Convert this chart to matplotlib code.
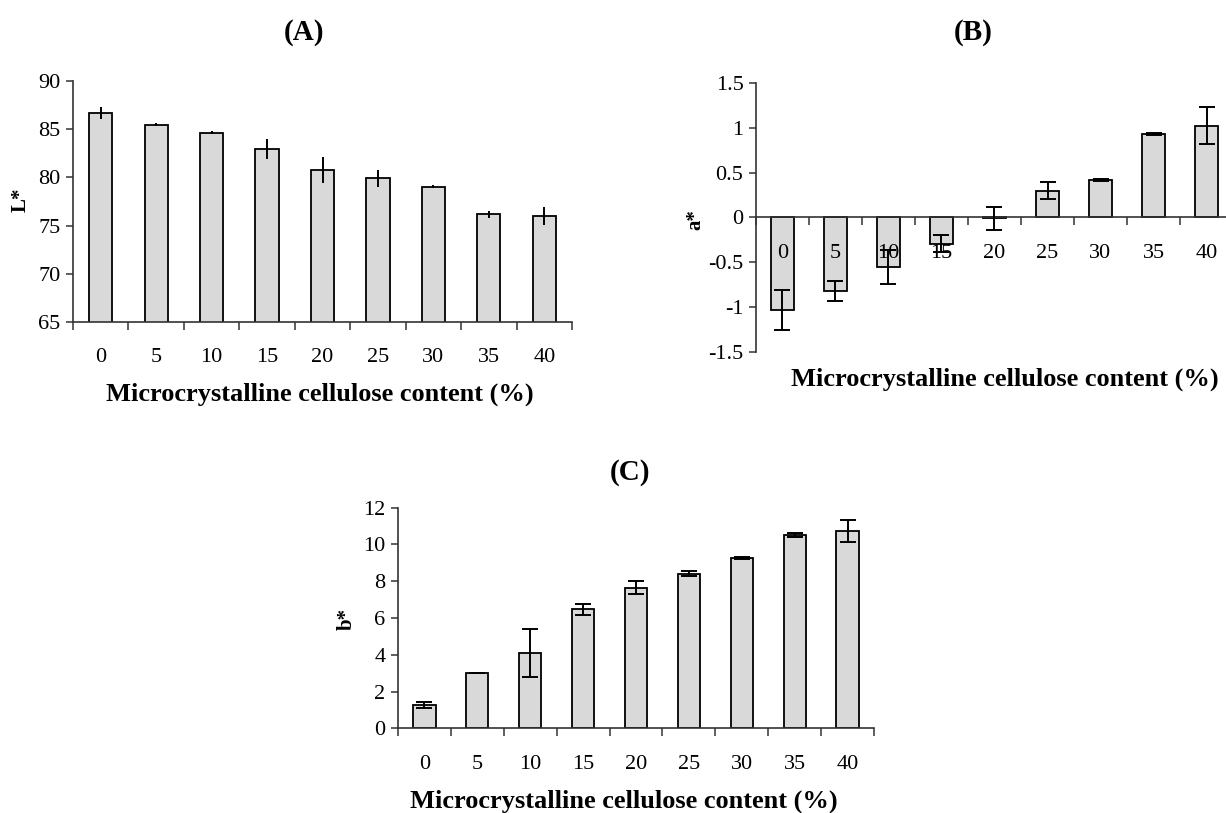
import numpy as np
import matplotlib
matplotlib.use('Agg')
import matplotlib.pyplot as plt

plt.rcParams['font.family'] = ['Liberation Serif', 'DejaVu Serif']

# Data
mcc = ['0', '5', '10', '15', '20', '25', '30', '35', '40']

L_vals = [86.65, 85.47, 84.64, 82.95, 80.77, 79.9, 79.04, 76.17, 76.0]
L_err = [0.64, 0.15, 0.15, 1.0, 1.35, 0.9, 0.15, 0.35, 0.92]

a_vals = [-1.03, -0.82, -0.55, -0.29, -0.01, 0.30, 0.42, 0.935, 1.025]
a_err = [0.22, 0.11, 0.19, 0.10, 0.13, 0.095, 0.01, 0.01, 0.21]

b_vals = [1.27, 3.03, 4.11, 6.47, 7.65, 8.41, 9.25, 10.5, 10.75]
b_err = [0.15, 0.0, 1.3, 0.3, 0.35, 0.15, 0.05, 0.1, 0.6]

W, H = 1226, 813
fig = plt.figure(figsize=(W / 100, H / 100), dpi=100)


def px_axes(x0, x1, y_top, y_bot):
    return fig.add_axes([x0 / W, (H - y_bot) / H, (x1 - x0) / W, (y_bot - y_top) / H])


def style_panel(ax, vals, errs, ylim, yticks, ytl, capsize, zero_axis=False):
    x = np.arange(len(vals))
    ax.bar(x, vals, width=0.42, color='#d9d9d9', edgecolor='black', linewidth=1.3, zorder=1)
    ax.errorbar(x, vals, yerr=errs, fmt='none', ecolor='black', elinewidth=1.4,
                capsize=capsize, capthick=1.4, zorder=3)
    ax.set_axisbelow(False)
    ax.set_xlim(-0.5, len(vals) - 0.5)
    ax.set_ylim(*ylim)
    ax.set_yticks(yticks)
    ax.set_yticklabels(ytl)
    ax.set_xticks(x)
    ax.set_xticklabels(mcc)
    ax.set_xticks(np.arange(-0.5, len(vals)), minor=True)
    ax.tick_params(axis='x', which='major', length=0, pad=19, labelsize=16)
    ax.tick_params(axis='x', which='minor', length=6, width=1.1, direction='out', color='#333333')
    ax.tick_params(axis='y', length=5, width=1.1, direction='out', pad=4, labelsize=16, color='#333333')
    for s in ['top', 'right']:
        ax.spines[s].set_visible(False)
    for s in ['left', 'bottom']:
        ax.spines[s].set_color('#333333')
        ax.spines[s].set_linewidth(1.2)
    if zero_axis:
        ax.spines['bottom'].set_position(('data', 0))


xlab = 'Microcrystalline cellulose content (%)'

# (A) L*
axA = px_axes(73, 572, 81, 322)
style_panel(axA, L_vals, L_err, (65, 90), [65, 70, 75, 80, 85, 90],
            ['65', '70', '75', '80', '85', '90'], capsize=0)
fig.text(304 / W, 1 - 33 / H, '(A)', ha='center', va='center', fontsize=21, fontweight='bold')
fig.text(320 / W, 1 - 394 / H, xlab, ha='center', va='center', fontsize=19, fontweight='bold')
fig.text(21 / W, 1 - 200 / H, 'L*', ha='center', va='center', fontsize=15, fontweight='bold', rotation=90)

# (B) a*
axB = px_axes(756, 1233, 83, 352)
style_panel(axB, a_vals, a_err, (-1.5, 1.5), [-1.5, -1, -0.5, 0, 0.5, 1, 1.5],
            ['-1.5', '-1', '-0.5', '0', '0.5', '1', '1.5'], capsize=6, zero_axis=True)
fig.text(973 / W, 1 - 33 / H, '(B)', ha='center', va='center', fontsize=21, fontweight='bold')
fig.text(1005 / W, 1 - 379 / H, xlab, ha='center', va='center', fontsize=19, fontweight='bold')
fig.text(695 / W, 1 - 220 / H, 'a*', ha='center', va='center', fontsize=15, fontweight='bold', rotation=90)

# (C) b*
axC = px_axes(398, 874, 507.7, 728.3)
style_panel(axC, b_vals, b_err, (0, 12), [0, 2, 4, 6, 8, 10, 12],
            ['0', '2', '4', '6', '8', '10', '12'], capsize=6)
fig.text(630 / W, 1 - 472 / H, '(C)', ha='center', va='center', fontsize=21, fontweight='bold')
fig.text(624 / W, 1 - 801 / H, xlab, ha='center', va='center', fontsize=19, fontweight='bold')
fig.text(347 / W, 1 - 619 / H, 'b*', ha='center', va='center', fontsize=15, fontweight='bold', rotation=90)

fig.savefig('out.png', dpi=100)
